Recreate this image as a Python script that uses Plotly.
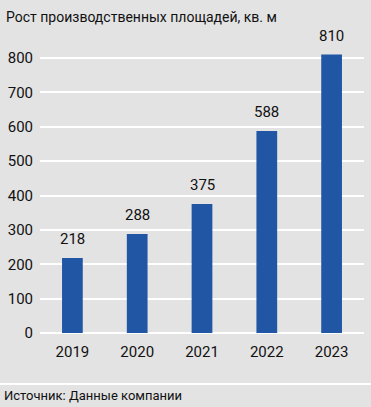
import plotly.graph_objects as go

years = ["2019", "2020", "2021", "2022", "2023"]
values = [218, 288, 375, 588, 810]
y_ticks = [0, 100, 200, 300, 400, 500, 600, 700, 800]

FONT = "Roboto, Liberation Sans Narrow, Arial Narrow, sans-serif"
BG = "#e3e3e3"
BAR = "#2156a5"
PH = 299.0
PW = 324.0

fig = go.Figure()
fig.add_trace(go.Bar(x=years, y=values, marker=dict(color=BAR, line=dict(width=0)),
                     hoverinfo="skip"))

for i, v in enumerate(values):
    fig.add_annotation(x=i, y=v, text=str(v), showarrow=False, yanchor="bottom",
                       yshift=8, font=dict(family=FONT, size=15, color="#111111"))

fig.add_annotation(text="Рост производственных площадей, кв. м", xref="paper", yref="paper",
                   x=-36/PW, y=(333 - 17) / PH, xanchor="left", yanchor="middle",
                   showarrow=False, font=dict(family=FONT, size=14, color="#111111"))
fig.add_annotation(text="Источник: Данные компании", xref="paper", yref="paper",
                   x=-38/PW, y=-62/PH, xanchor="left", yanchor="middle",
                   showarrow=False, font=dict(family=FONT, size=13, color="#111111"))
fig.add_shape(type="line", xref="paper", yref="paper", x0=-40/PW, x1=1+7/PW,
              y0=-51/PH, y1=-51/PH, line=dict(color="white", width=2))

fig.update_layout(
    width=371, height=407,
    margin=dict(l=40, r=7, t=34, b=74),
    paper_bgcolor=BG, plot_bgcolor=BG,
    bargap=0.68, showlegend=False,
    font=dict(family=FONT, size=15, color="#111111"),
    xaxis=dict(type="category", showgrid=False, showline=False, ticks="",
               tickfont=dict(size=15), ticklabelstandoff=8),
    yaxis=dict(range=[0, 870], tickvals=y_ticks, showgrid=True, gridcolor="white",
               gridwidth=1.5, zeroline=True, zerolinecolor="white", zerolinewidth=1.5,
               ticks="", tickfont=dict(size=15), ticklabelstandoff=6),
)
fig.write_html("out.html", config={"displayModeBar": False},
               post_script="document.body.style.margin='0';document.body.style.background='#e3e3e3';")
